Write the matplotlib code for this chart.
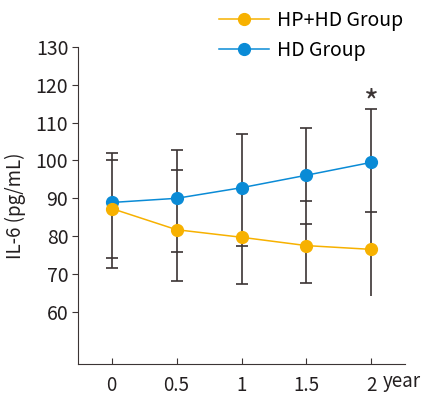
import matplotlib.pyplot as plt
import numpy as np

plt.rcParams['font.family'] = ['Noto Sans CJK SC', 'DejaVu Sans']
plt.rcParams['font.weight'] = 'light'

# data
years = [0, 0.5, 1, 1.5, 2]
hd = [88.9, 90.0, 92.8, 96.1, 99.5]
hphd = [87.3, 81.7, 79.7, 77.5, 76.5]

# error bar ends (nan = no cap drawn)
hd_upper = [102.1, 102.9, 107.1, 108.5, 113.6]
hd_lower = [71.7, 75.9, 77.4, 83.1, 86.3]
hphd_upper = [100.0, 97.4, np.nan, 89.2, np.nan]
hphd_lower = [74.3, 68.1, 67.4, 67.6, 64.1]
hphd_lower_cap = [True, True, True, True, False]

yticks = [60, 70, 80, 90, 100, 110, 120, 130]
xticklabels = ['0', '0.5', '1', '1.5', '2']

blue = '#0a8bd6'
orange = '#f7b100'
dark = '#3b3434'
textc = '#231f20'

fig = plt.figure(figsize=(4.25, 3.98), dpi=100)
ax = fig.add_axes([78/425, 1-364/398, (405-78)/425, (364-47)/398])

# error bars: vertical lines from lowest to highest end, then caps
for i in range(len(years)):
    ends = [hd_upper[i], hd_lower[i], hphd_upper[i], hphd_lower[i]]
    ends = [e for e in ends if not np.isnan(e)]
    ax.vlines(years[i], min(ends), max(ends), color=dark, lw=1.2, zorder=1)

capx = []
capy = []
for i in range(len(years)):
    capx += [years[i], years[i]]
    capy += [hd_upper[i], hd_lower[i]]
    if not np.isnan(hphd_upper[i]):
        capx.append(years[i])
        capy.append(hphd_upper[i])
    if hphd_lower_cap[i]:
        capx.append(years[i])
        capy.append(hphd_lower[i])
ax.plot(capx, capy, ls='none', marker='_', ms=8, mew=1.2, color=dark, zorder=1)

ax.plot(years, hphd, color=orange, lw=1.1, marker='o', ms=8.5, label='HP+HD Group', zorder=3)
ax.plot(years, hd, color=blue, lw=1.1, marker='o', ms=8.5, label='HD Group', zorder=2)

ax.text(2, 110.9, '*', ha='center', va='bottom', fontsize=23, color=dark, fontweight='normal')

ax.set_xlim(-0.26, 2.26)
ax.set_ylim(46.2, 130)
ax.set_yticks(yticks)
ax.set_xticks(years)
ax.set_xticklabels(xticklabels)
ax.spines['top'].set_visible(False)
ax.spines['right'].set_visible(False)
ax.spines['left'].set_color(dark)
ax.spines['bottom'].set_color(dark)
ax.tick_params(axis='y', direction='out', length=4, color=dark, labelsize=14, labelcolor=textc, pad=3)
ax.tick_params(axis='x', direction='in', length=4, color=dark, labelsize=13.5, labelcolor=textc, pad=8)
ax.set_ylabel('IL-6 (pg/mL)', fontsize=13.5, color=textc, labelpad=7)
fig.text(421/425, 1-381/398, 'year', ha='right', va='center', fontsize=13.5, color=textc)

ax.legend(loc='upper left', bbox_to_anchor=(215/425, 1-6/398), bbox_transform=fig.transFigure,
          frameon=False, fontsize=14, handlelength=2.6, handletextpad=0.4, labelspacing=0.45,
          borderaxespad=0.0, borderpad=0.2)

plt.savefig('out.png', dpi=100)
